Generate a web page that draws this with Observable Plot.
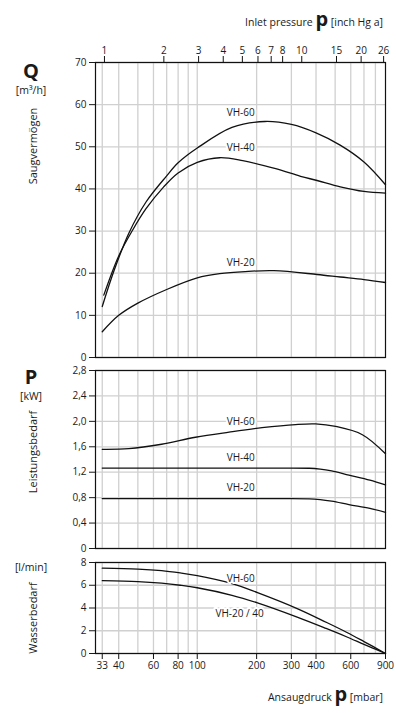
<!DOCTYPE html>
<html><head><meta charset="utf-8">
<script src="https://cdn.jsdelivr.net/npm/d3@7"></script>
<script src="https://cdn.jsdelivr.net/npm/@observablehq/plot@0.6"></script>
<style>
body{margin:0;background:#fff;font-family:"Open Sans",sans-serif;color:#1a1a1a;}
#wrap{position:relative;width:396px;height:713px;overflow:hidden;}
.abs{position:absolute;white-space:nowrap;line-height:1;}
.big{font-weight:bold;font-size:20px;}
.unit{font-size:10.5px;}
.rot{transform:translate(-50%,-50%) rotate(-90deg);font-size:11px;}
.ttl{position:absolute;right:13px;font-size:10.5px;line-height:normal;white-space:nowrap;}
.ttl b{font-size:20px;}
.panel{position:absolute;left:0;}
</style></head><body><div id="wrap">
<div class="ttl" style="top:5px;">Inlet pressure <b>p</b> [inch Hg a]</div>
<div class="ttl" style="top:680px;">Ansaugdruck <b>p</b> [mbar]</div>
<div class="abs big" style="left:31px;top:71px;transform:translate(-50%,-50%);">Q</div>
<div class="abs unit" style="left:31px;top:90px;transform:translate(-50%,-50%);">[m³/h]</div>
<div class="abs rot" style="left:32px;top:146px;">Saugvermögen</div>
<div class="abs big" style="left:31px;top:377px;transform:translate(-50%,-50%);">P</div>
<div class="abs unit" style="left:31px;top:396px;transform:translate(-50%,-50%);">[kW]</div>
<div class="abs rot" style="left:32px;top:452px;">Leistungsbedarf</div>
<div class="abs unit" style="left:31px;top:567px;transform:translate(-50%,-50%);">[l/min]</div>
<div class="abs rot" style="left:32px;top:618px;">Wasserbedarf</div>
<div id="p1" class="panel" style="top:0px"></div>
<div id="p2" class="panel" style="top:360px"></div>
<div id="p3" class="panel" style="top:551px"></div>
</div>
<script>
// ---- data ----
const INHG = 33.8639; // mbar per inch Hg
const inchTicks = [1, 2, 3, 4, 5, 6, 7, 8, 10, 15, 20, 26];
const mbarTicks = [33, 40, 60, 80, 100, 200, 300, 400, 600, 900];
const gridX = [33, 40, 50, 60, 70, 80, 90, 100, 200, 300, 400, 500, 600, 700, 800];
const qTicks = [0, 10, 20, 30, 40, 50, 60, 70];
const pTicks = [0, 0.4, 0.8, 1.2, 1.6, 2.0, 2.4, 2.8];
const wTicks = [0, 2, 4, 6, 8];

// Saugvermögen Q [m3/h]
const q60_p = [33, 38, 45, 55, 70, 80, 100, 150, 220, 300, 400, 530, 700, 900];
const q60_v = [12.1, 20.8, 29.5, 36.9, 43.1, 46.2, 49.7, 54.6, 56, 55.3, 53.3, 50.4, 46.4, 41];
const q40_p = [33.6, 40, 47, 55, 67.6, 80, 100, 130, 170, 250, 334, 405, 531, 700, 900];
const q40_v = [14.8, 24.1, 30.2, 35.3, 40.5, 43.8, 46.3, 47.4, 46.7, 44.8, 43, 42, 40.5, 39.4, 39.0];
const q20_p = [33, 40, 50, 70.5, 100, 130, 175, 245, 405, 531, 700, 900];
const q20_v = [6.1, 10, 12.9, 16.2, 18.9, 19.9, 20.4, 20.6, 19.7, 19.1, 18.5, 17.8];

// Leistungsbedarf P [kW]
const p60_p = [33, 45, 66, 98, 145, 213, 315, 398, 503, 687, 900];
const p60_v = [1.56, 1.57, 1.64, 1.75, 1.83, 1.90, 1.95, 1.96, 1.92, 1.79, 1.49];
const p40_p = [33, 100, 200, 300, 370, 420, 480, 587, 750, 900];
const p40_v = [1.265, 1.265, 1.265, 1.265, 1.262, 1.25, 1.222, 1.155, 1.075, 1.0];
const p20_p = [33, 100, 200, 300, 370, 420, 480, 587, 750, 900];
const p20_v = [0.785, 0.785, 0.785, 0.785, 0.782, 0.77, 0.745, 0.69, 0.63, 0.57];

// Wasserbedarf [l/min]
const w60_p = [33, 50, 66, 82, 100, 150, 202, 321, 450, 574, 700, 800, 900];
const w60_v = [7.5, 7.42, 7.28, 7.08, 6.85, 6.15, 5.35, 3.95, 2.75, 1.85, 1.05, 0.5, 0];
const w20_p = [33, 50, 66, 82, 100, 150, 202, 321, 450, 574, 700, 800, 900];
const w20_v = [6.4, 6.32, 6.18, 6.0, 5.78, 5.12, 4.45, 3.2, 2.2, 1.45, 0.8, 0.38, 0];

// curve labels (data units)
const qLabels = ["VH-60", "VH-40", "VH-20"], qLabX = [166, 166, 166], qLabY = [58.1, 49.8, 22.4];
const pLabels = ["VH-60", "VH-40", "VH-20"], pLabX = [166, 166, 166], pLabY = [2.0, 1.42, 0.96];
const wLabels = ["VH-60", "VH-20 / 40"], wLabX = [166, 164], wLabY = [6.6, 3.5];

// ---- build ----
const series = (name, ps, vs) => ps.map((p, i) => ({s: name, p, v: vs[i]}));
const labs = (t, xs, ys) => t.map((d, i) => ({t: d, p: xs[i], v: ys[i]}));
const comma = d => d === 0 ? "0" : d.toFixed(1).replace(".", ",");

const style = {fontFamily: "'Open Sans', sans-serif", fontSize: "10px", color: "#1a1a1a", background: "transparent", overflow: "visible"};
const GRID = "#d0d0d0";
const INK = "#111";

function panel({height, marginTop, marginBottom, y, yTicks, yFmt, lines, labels, extra}) {
  return Plot.plot({
    width: 396, height, marginLeft: 95, marginRight: 11, marginTop, marginBottom,
    style,
    x: {type: "log", domain: [30.5, 900], axis: null},
    y: {domain: y, ticks: yTicks, tickFormat: yFmt, tickSize: 6, tickPadding: 3, label: null},
    marks: [
      Plot.ruleX(gridX, {stroke: GRID, strokeWidth: 1.3}),
      Plot.ruleY(yTicks, {stroke: GRID, strokeWidth: 1.3}),
      ...lines.map(([d, curve]) => Plot.line(d, {x: "p", y: "v", curve, stroke: INK, strokeWidth: 1.3})),
      Plot.text(labels, {x: "p", y: "v", text: "t", fill: "#1a1a1a", stroke: "white", strokeWidth: 4, fontSize: 10}),
      Plot.frame({stroke: INK, strokeWidth: 1.2}),
      ...extra
    ]
  });
}

const inchMbar = inchTicks.map(d => d * INHG);
const qMax = qTicks[qTicks.length - 1];
const CR = "catmull-rom";

document.getElementById("p1").appendChild(panel({
  height: 360, marginTop: 62, marginBottom: 3,
  y: [0, 70], yTicks: qTicks, yFmt: d => String(d),
  lines: [
    [series("VH-60", q60_p, q60_v), CR],
    [series("VH-40", q40_p, q40_v), CR],
    [series("VH-20", q20_p, q20_v), CR]
  ],
  labels: labs(qLabels, qLabX, qLabY),
  extra: [
    Plot.ruleX(inchMbar, {x: d => d, y1: () => qMax, y2: () => qMax, insetTop: -6, stroke: INK}),
    Plot.text(inchMbar, {x: d => d, frameAnchor: "top", lineAnchor: "bottom", dy: -8.5, text: (d, i) => String(inchTicks[i]), fill: "#1a1a1a"})
  ]
}));
document.getElementById("p2").appendChild(panel({
  height: 191, marginTop: 10, marginBottom: 3,
  y: [0, 2.8], yTicks: pTicks, yFmt: comma,
  lines: [
    [series("VH-60", p60_p, p60_v), CR],
    [series("VH-40", p40_p, p40_v), "monotone-x"],
    [series("VH-20", p20_p, p20_v), "monotone-x"]
  ],
  labels: labs(pLabels, pLabX, pLabY),
  extra: []
}));
document.getElementById("p3").appendChild(panel({
  height: 127, marginTop: 11, marginBottom: 25,
  y: [0, 8], yTicks: wTicks, yFmt: d => String(d),
  lines: [
    [series("VH-60", w60_p, w60_v), CR],
    [series("VH-20/40", w20_p, w20_v), CR]
  ],
  labels: labs(wLabels, wLabX, wLabY),
  extra: [
    Plot.ruleX(mbarTicks, {x: d => d, y1: () => 0, y2: () => 0, insetBottom: -6, stroke: INK}),
    Plot.text(mbarTicks, {x: d => d, frameAnchor: "bottom", lineAnchor: "top", dy: 8, text: d => String(d), fill: "#1a1a1a"})
  ]
}));
</script>
</body></html>
